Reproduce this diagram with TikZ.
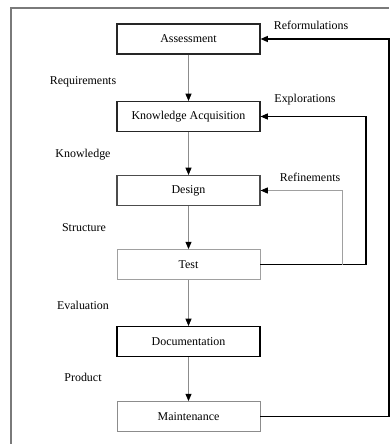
\documentclass[tikz,border=0pt]{standalone}
\usepackage{fontspec}
\setmainfont{Liberation Serif}
\usetikzlibrary{arrows.meta,positioning,calc}
\definecolor{frame}{HTML}{7A7A7A}
\definecolor{flow}{HTML}{8C8C8C}
\definecolor{soft}{HTML}{A0A0A0}
\tikzset{
  stage/.style={draw=black!85, line width=0.8pt, minimum width=3.575cm, minimum height=0.75cm, inner sep=0pt, font=\fontsize{8.5}{10}\selectfont},
  softstage/.style={stage, draw=soft, line width=0.6pt},
  flowlabel/.style={font=\fontsize{8.5}{10}\selectfont},
  flowarr/.style={-{Triangle[length=1.8mm,width=1.5mm,color=black]}, draw=flow, line width=0.5pt},
  loopback/.style={-{Triangle[length=1.8mm,width=1.5mm]}, draw=black, line width=0.8pt},
  softloop/.style={-{Triangle[length=1.8mm,width=1.5mm,color=black]}, draw=soft, line width=0.6pt}
}

\begin{document}
\begin{tikzpicture}[x=0.025cm, y=-0.025cm]
  \useasboundingbox (0,0) rectangle (391,444);
  \draw[frame, line width=1.4pt] (11,444) -- (11,8) -- (389,8);

  \node[stage] (assess) at (188.5,39) {Assessment};
  \node[stage] (acq) at (188.5,116.5) {Knowledge Acquisition};
  \node[stage, draw=black!70] (design) at (188.5,190.5) {Design};
  \node[softstage] (test) at (188.5,264.5) {Test};
  \node[stage, draw=black] (doc) at (188.5,341.5) {Documentation};
  \node[softstage, draw=flow] (maint) at (188.5,416.5) {Maintenance};

  \node[flowlabel] (req) at (83,82) {Requirements};
  \node[flowlabel] (know) at (83,155) {Knowledge};
  \node[flowlabel] (struct) at (84,228) {Structure};
  \node[flowlabel] (eval) at (83,305) {Evaluation};
  \node[flowlabel] (prod) at (83,377) {Product};

  \node[flowlabel] (reform) at (311,25) {Reformulations};
  \node[flowlabel] (explor) at (305,100) {Explorations};
  \node[flowlabel] (refine) at (310,177) {Refinements};

  \draw[flowarr] (assess) -- (acq);
  \draw[flowarr] (acq) -- (design);
  \draw[flowarr] (design) -- (test);
  \draw[flowarr] (test) -- (doc);
  \draw[flowarr] (doc) -- (maint);

  \coordinate (reftop) at (389,39);
  \coordinate (exptop) at (366,116.5);
  \coordinate (refbot) at (342,264.5);

  \draw[loopback] (maint.east) -| (reftop) -- (assess.east);
  \draw[loopback] (test.east) -| (exptop) -- (acq.east);
  \draw[softloop] (refbot) |- (design.east);
\end{tikzpicture}
\end{document}
